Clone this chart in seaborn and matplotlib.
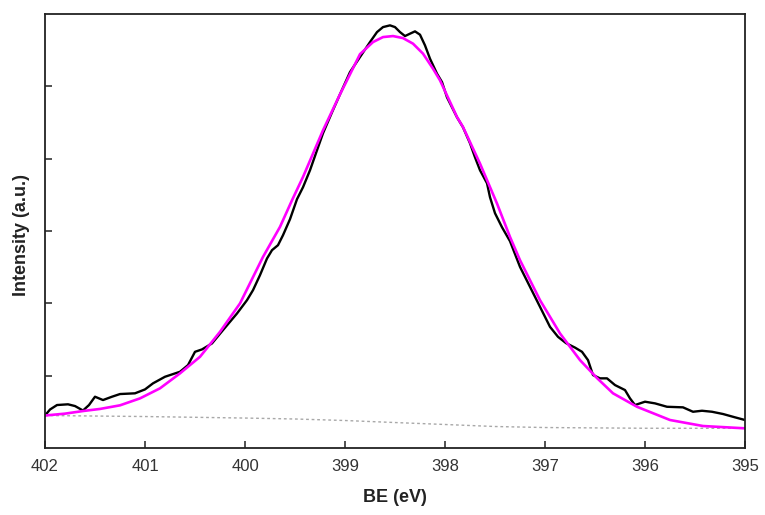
import matplotlib
matplotlib.use("Agg")
import matplotlib.pyplot as plt
import seaborn as sns
import pandas as pd

# Experimental N 1s spectrum (binding energy, eV / intensity, a.u.)
exp_be = [402.00, 401.95, 401.88, 401.77, 401.70, 401.62, 401.56, 401.50, 401.42, 401.33,
          401.25, 401.10, 401.00, 400.92, 400.80, 400.65, 400.57, 400.50, 400.43, 400.33,
          400.22, 400.08, 399.98, 399.92, 399.85, 399.78, 399.73, 399.67, 399.62,
          399.55, 399.48, 399.42, 399.35, 399.28, 399.22, 399.13, 399.05, 398.95, 398.85,
          398.75, 398.68, 398.62, 398.55, 398.50, 398.45, 398.40, 398.35, 398.30, 398.25,
          398.20, 398.15, 398.08, 398.03, 397.98, 397.88, 397.82, 397.75, 397.70, 397.65,
          397.58, 397.55, 397.50, 397.43, 397.35, 397.25, 397.15, 397.05, 396.95, 396.87,
          396.79, 396.70, 396.63, 396.57, 396.52, 396.45, 396.38, 396.30, 396.20, 396.15,
          396.10, 396.00, 395.90, 395.78, 395.62, 395.52, 395.43, 395.33, 395.22, 395.10,
          395.00]
exp_int = [0.449, 0.532, 0.594, 0.604, 0.580, 0.518, 0.594, 0.709, 0.663, 0.709,
           0.746, 0.756, 0.810, 0.894, 0.985, 1.054, 1.146, 1.330, 1.363, 1.446,
           1.630, 1.860, 2.044, 2.182, 2.390, 2.620, 2.735, 2.804, 2.942,
           3.163, 3.440, 3.605, 3.840, 4.116, 4.351, 4.641, 4.890, 5.197, 5.405,
           5.612, 5.750, 5.819, 5.843, 5.819, 5.750, 5.695, 5.728, 5.760, 5.714,
           5.566, 5.382, 5.175, 5.059, 4.848, 4.572, 4.434, 4.213, 4.019, 3.840,
           3.660, 3.467, 3.246, 3.052, 2.859, 2.504, 2.228, 1.952, 1.675, 1.537,
           1.450, 1.388, 1.330, 1.215, 1.008, 0.963, 0.963, 0.870, 0.801, 0.686,
           0.594, 0.640, 0.617, 0.570, 0.562, 0.501, 0.515, 0.501, 0.470, 0.424,
           0.387]

# Fitted envelope
fit_be = [402.00, 401.80, 401.62, 401.45, 401.25, 401.05, 400.85, 400.65, 400.45, 400.25,
          400.05, 399.82, 399.65, 399.53, 399.42, 399.22, 399.05, 398.98, 398.85, 398.72,
          398.62, 398.52, 398.42, 398.32, 398.22, 398.12, 398.05, 397.88, 397.82, 397.65,
          397.48, 397.35, 397.25, 397.05, 396.85, 396.65, 396.48, 396.32, 396.08, 395.75,
          395.42, 395.00]
fit_int = [0.449, 0.475, 0.511, 0.540, 0.590, 0.686, 0.825, 1.032, 1.261, 1.606,
           1.999, 2.642, 3.057, 3.425, 3.747, 4.392, 4.890, 5.083, 5.445, 5.612,
           5.681, 5.695, 5.667, 5.590, 5.452, 5.244, 5.083, 4.576, 4.438, 3.932,
           3.380, 2.918, 2.597, 2.044, 1.584, 1.215, 0.967, 0.756, 0.570, 0.387,
           0.304, 0.272]

# Background
bg_be = [402.0, 401.0, 400.0, 399.5, 399.0, 398.5, 398.0, 397.5, 397.0, 396.0, 395.0]
bg_int = [0.449, 0.435, 0.414, 0.401, 0.380, 0.352, 0.325, 0.297, 0.283, 0.273, 0.272]

x_ticks = [402, 401, 400, 399, 398, 397, 396, 395]
y_ticks = [1, 2, 3, 4, 5]

sns.set_style("ticks")
plt.rcParams['font.family'] = ['Liberation Sans', 'DejaVu Sans']

fig = plt.figure(figsize=(7.65, 5.15), dpi=100)
ax = fig.add_axes([45/765, 67/515, 700/765, 434/515])

df_exp = pd.DataFrame({"BE": exp_be, "I": exp_int})
df_fit = pd.DataFrame({"BE": fit_be, "I": fit_int})
df_bg = pd.DataFrame({"BE": bg_be, "I": bg_int})

sns.lineplot(data=df_bg, x="BE", y="I", ax=ax, color="#a8a8a8", lw=1.0,
             linestyle=(0, (2, 2)), sort=False)
sns.lineplot(data=df_exp, x="BE", y="I", ax=ax, color="black", lw=1.7, sort=False,
             solid_joinstyle="round", solid_capstyle="round")
sns.lineplot(data=df_fit, x="BE", y="I", ax=ax, color="#ff00ff", lw=1.9, sort=False,
             solid_joinstyle="round", solid_capstyle="round")

ax.set_xlim(402, 395)
ax.set_ylim(0, 6)
ax.set_xticks(x_ticks)
ax.set_xticklabels([str(v) for v in x_ticks])
ax.set_yticks(y_ticks)
ax.set_yticklabels([])
ax.tick_params(axis='both', direction='in', length=5, width=1.1, color='#222222')
ax.tick_params(axis='x', labelsize=12, labelcolor='#333333', pad=8)
for s in ax.spines.values():
    s.set_linewidth(1.3)
    s.set_color('#222222')

ax.set_xlabel("BE (eV)", fontsize=13, fontweight='bold', color='#222222')
ax.set_ylabel("Intensity (a.u.)", fontsize=13, fontweight='bold', color='#222222')
ax.xaxis.set_label_coords(0.5, -0.095)
ax.yaxis.set_label_coords(-0.022, 0.49)

fig.savefig("out.png", dpi=100)
